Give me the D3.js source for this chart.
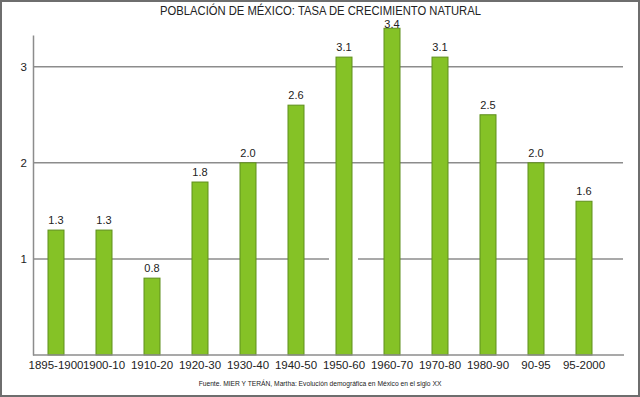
<!DOCTYPE html>
<html lang="es">
<head>
<meta charset="utf-8">
<script src="https://d3js.org/d3.v7.min.js"></script>
<style>
  body { margin: 0; background: #fff; }
  text { font-family: "Liberation Sans", Arial, sans-serif; fill: #222; }
</style>
</head>
<body>
<svg width="640" height="397" id="chart"></svg>
<script>
  var periods = ["1895-1900", "1900-10", "1910-20", "1920-30", "1930-40", "1940-50",
                 "1950-60", "1960-70", "1970-80", "1980-90", "90-95", "95-2000"];
  var rates = [1.3, 1.3, 0.8, 1.8, 2.0, 2.6, 3.1, 3.4, 3.1, 2.5, 2.0, 1.6];
  var yTicks = [1, 2, 3];

  var svg = d3.select("#chart");

  // frame
  svg.append("rect").attr("x", 1).attr("y", 1).attr("width", 638).attr("height", 395)
    .attr("fill", "none").attr("stroke", "#6e6e6e").attr("stroke-width", 2);

  var xScale = d3.scaleBand().domain(periods).range([32, 608]).paddingInner(2 / 3).paddingOuter(1 / 3);
  var yScale = d3.scaleLinear().domain([0, 3.33]).range([355, 35]);

  // gridlines (the line at 1 is broken around the 1950-60 bar)
  yTicks.forEach(function(t) {
    var segs = t === 1 ? [[33, 329], [358, 623]] : [[33, 623]];
    segs.forEach(function(s) {
      svg.append("line").attr("x1", s[0]).attr("x2", s[1])
        .attr("y1", yScale(t)).attr("y2", yScale(t))
        .attr("stroke", "#8c8c8c").attr("stroke-width", 1.5);
    });
  });

  // y axis
  var yAxis = d3.axisLeft(yScale).tickValues(yTicks).tickFormat(d3.format("d")).tickSize(0).tickPadding(6);
  var gy = svg.append("g").attr("transform", "translate(33,0)").call(yAxis);
  gy.select(".domain").attr("stroke", "#8c8c8c").attr("stroke-width", 1.5);
  gy.selectAll("text").attr("font-size", 11.5).attr("font-family", "Liberation Sans, Arial, sans-serif").attr("fill", "#222");

  // bars
  svg.selectAll(".bar").data(rates).enter().append("rect").attr("class", "bar")
    .attr("x", function(d, i) { return xScale(periods[i]); })
    .attr("y", function(d) { return yScale(d); })
    .attr("width", xScale.bandwidth())
    .attr("height", function(d) { return yScale(0) - yScale(d); })
    .attr("fill", "#85c226")
    .attr("stroke", "#5f8f1c").attr("stroke-width", 1);

  // value labels (kept below the title)
  svg.selectAll(".val").data(rates).enter().append("text").attr("class", "val")
    .attr("x", function(d, i) { return xScale(periods[i]) + xScale.bandwidth() / 2; })
    .attr("y", function(d) { return Math.max(yScale(d) - 6, 28); })
    .attr("text-anchor", "middle").attr("font-size", 11)
    .text(function(d) { return d.toFixed(1); });

  // x axis
  var xAxis = d3.axisBottom(xScale).tickSize(0).tickPadding(6);
  var gx = svg.append("g").attr("transform", "translate(0,355)").call(xAxis);
  gx.select(".domain").remove();
  svg.append("line").attr("x1", 33).attr("x2", 624).attr("y1", 355).attr("y2", 355)
    .attr("stroke", "#8c8c8c").attr("stroke-width", 1.5);
  gx.selectAll("text").attr("font-size", 11.5).attr("font-family", "Liberation Sans, Arial, sans-serif").attr("fill", "#222");

  svg.append("text").attr("x", 320.5).attr("y", 15).attr("text-anchor", "middle")
    .attr("font-size", 12.5).attr("textLength", 321).attr("lengthAdjust", "spacingAndGlyphs")
    .text("POBLACIÓN DE MÉXICO: TASA DE CRECIMIENTO NATURAL");

  svg.append("text").attr("x", 320).attr("y", 386).attr("text-anchor", "middle")
    .attr("font-size", 6.7).text("Fuente. MIER Y TERÁN, Martha: Evolución demográfica en México en el siglo XX");
</script>
</body>
</html>
